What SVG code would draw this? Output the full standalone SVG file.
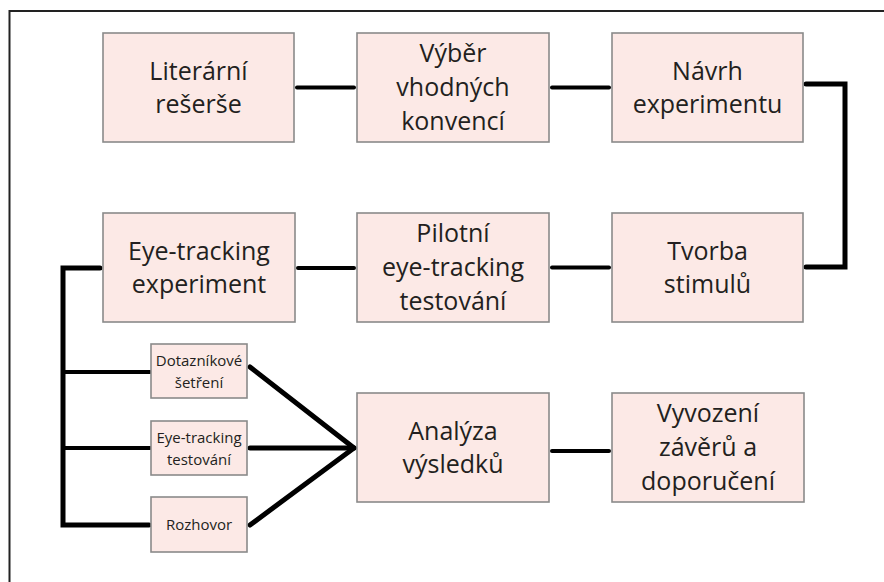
<svg xmlns="http://www.w3.org/2000/svg" width="884" height="582" viewBox="0 0 884 582">
<style>
.box{fill:#fce9e6;stroke:#8a8a8a;stroke-width:1.6}
.t{font-family:"Open Sans","Noto Sans",sans-serif;font-size:25px;fill:#231f20;text-anchor:middle}
.s{font-family:"Open Sans","Noto Sans",sans-serif;font-size:15px;fill:#231f20;text-anchor:middle}
.c{fill:none;stroke:#000;stroke-width:4;stroke-linecap:round;stroke-linejoin:miter}
.cb{fill:none;stroke:#000;stroke-width:5;stroke-linecap:round;stroke-linejoin:miter}
</style>
<rect x="0" y="0" width="884" height="582" fill="#fff"/>
<path d="M9.5,582 V11 H884" fill="none" stroke="#222" stroke-width="2"/>
<g id="connectors">
<path class="c" d="M297,87.5 H354"/>
<path class="c" d="M552,87.5 H609"/>
<path class="cb" d="M806,84 H845 V267 H806"/>
<path class="c" d="M552,267.5 H609"/>
<path class="c" d="M298,268 H354"/>
<path class="cb" d="M100,268 H63 V525 H149"/>
<path class="c" d="M63,372 H150"/>
<path class="c" d="M63,448 H150"/>
<path class="cb" d="M250,367 L354,448 L250,525"/>
<path class="cb" d="M250,448 H354"/>
<path class="c" d="M552,451 H609"/>
</g>
<g id="n1"><rect class="box" x="103" y="33" width="191" height="109"/><text class="t" x="198.5" y="79.5">Literární</text><text class="t" x="198.5" y="112.5">rešerše</text></g>
<g id="n2"><rect class="box" x="357" y="33" width="192" height="109"/><text class="t" x="453" y="62">Výběr</text><text class="t" x="453" y="96">vhodných</text><text class="t" x="453" y="130">konvencí</text></g>
<g id="n3"><rect class="box" x="612" y="33" width="191" height="109"/><text class="t" x="707.5" y="79.5">Návrh</text><text class="t" x="707.5" y="112.5">experimentu</text></g>
<g id="n4"><rect class="box" x="612" y="213" width="191" height="109"/><text class="t" x="707.5" y="259.5">Tvorba</text><text class="t" x="707.5" y="292.5">stimulů</text></g>
<g id="n5"><rect class="box" x="357" y="213" width="192" height="109"/><text class="t" x="453" y="242">Pilotní</text><text class="t" x="453" y="276">eye-tracking</text><text class="t" x="453" y="310">testování</text></g>
<g id="n6"><rect class="box" x="103" y="213" width="192" height="109"/><text class="t" x="199" y="259.5">Eye-tracking</text><text class="t" x="199" y="292.5">experiment</text></g>
<g id="n7"><rect class="box" x="151" y="344" width="96" height="54"/><text class="s" x="199" y="365.5">Dotazníkové</text><text class="s" x="199" y="387.5">šetření</text></g>
<g id="n8"><rect class="box" x="151" y="421" width="96" height="54"/><text class="s" x="199" y="442.5">Eye-tracking</text><text class="s" x="199" y="464.5">testování</text></g>
<g id="n9"><rect class="box" x="151" y="497" width="96" height="55"/><text class="s" x="199" y="530">Rozhovor</text></g>
<g id="n10"><rect class="box" x="357" y="393" width="192" height="109"/><text class="t" x="453" y="439.5">Analýza</text><text class="t" x="453" y="472.5">výsledků</text></g>
<g id="n11"><rect class="box" x="612" y="393" width="192" height="109"/><text class="t" x="708" y="422">Vyvození</text><text class="t" x="708" y="456">závěrů a</text><text class="t" x="708" y="490">doporučení</text></g>
</svg>
